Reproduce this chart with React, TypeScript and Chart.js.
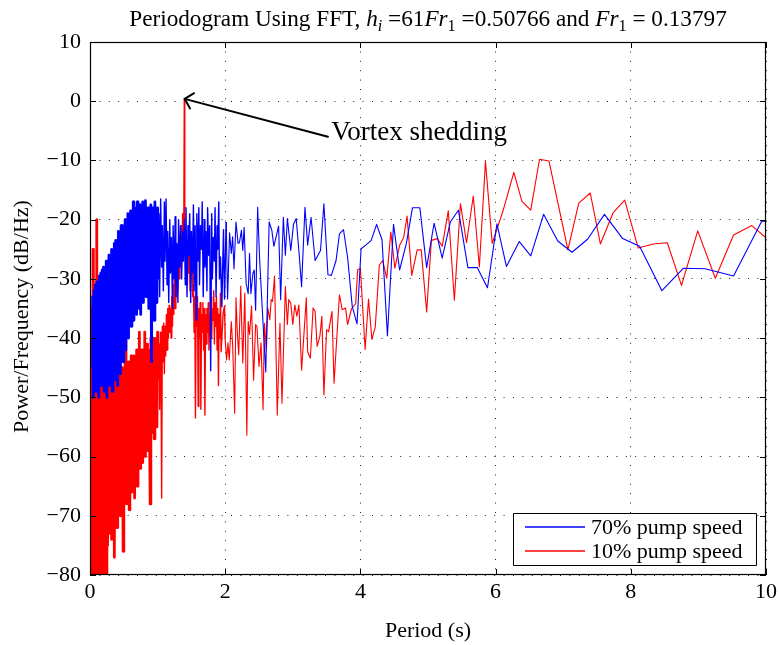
import React, { useEffect, useRef } from "react";
import { Chart, registerables } from "chart.js";

Chart.register(...registerables);

const FONT = '"Liberation Serif", "Times New Roman", serif';

// ---- axes ----
const xTickValues = [0, 2, 4, 6, 8, 10];
const yTickValues = [-80, -70, -60, -50, -40, -30, -20, -10, 0, 10];

// ---- legend / labels ----
const seriesNames = ["70% pump speed", "10% pump speed"];
const xAxisTitle = "Period (s)";
const yAxisTitle = "Power/Frequency (dB/Hz)";
const annotationText = "Vortex shedding";
const arrowTip: [number, number] = [1.4, 0.4];
const arrowTail: [number, number] = [3.52, -6.0];
const annotationAt: [number, number] = [3.57, -5.3];
const titleParts = [
  { t: "Periodogram Using FFT, ", k: "r" },
  { t: "h", k: "i" },
  { t: "i", k: "isub" },
  { t: " =61", k: "r" },
  { t: "Fr", k: "i" },
  { t: "1", k: "sub" },
  { t: " =0.50766 and ", k: "r" },
  { t: "Fr", k: "i" },
  { t: "1", k: "sub" },
  { t: " = 0.13797", k: "r" },
];

// ---- 70% pump speed (blue): [period s, dB/Hz] ----
const blueLow: [number, number][] = [
  [0.03,-45],[0.04,-33],[0.05,-50],[0.06,-32],[0.07,-47],[0.08,-31],[0.09,-49],[0.10,-30.5],[0.11,-44],[0.12,-31],
  [0.13,-50],[0.14,-29.5],[0.15,-46],[0.16,-29],[0.17,-48],[0.18,-28.5],[0.19,-43],[0.20,-28],[0.21,-49],[0.22,-28],
  [0.23,-45],[0.24,-27],[0.25,-50],[0.26,-27.5],[0.27,-46],[0.28,-26],[0.29,-48],[0.30,-26.5],[0.31,-44],[0.32,-25],
  [0.33,-49],[0.34,-25.5],[0.35,-45],[0.36,-24],[0.37,-47],[0.38,-23.5],[0.39,-43],[0.40,-23.5],[0.41,-48],[0.42,-22],
  [0.43,-40],[0.44,-22.5],[0.45,-46],[0.46,-21],[0.47,-39],[0.48,-21],[0.49,-44],[0.50,-21.5],[0.51,-37],[0.52,-20],
  [0.53,-42],[0.54,-20.5],[0.55,-36],[0.56,-19],[0.57,-40],[0.58,-19.5],[0.59,-35],[0.60,-18.5],[0.61,-38],[0.62,-19],
  [0.63,-34],[0.64,-17],[0.65,-37],[0.66,-18],[0.67,-33],[0.68,-19],[0.69,-36],[0.70,-17],[0.71,-32],[0.72,-18],
  [0.73,-35],[0.74,-17.5],[0.75,-36],[0.76,-19],[0.77,-31],[0.78,-17],[0.79,-34],[0.80,-18],[0.81,-30],[0.82,-16.8],
  [0.83,-33],[0.84,-20],[0.85,-29],[0.86,-18],[0.87,-35],[0.88,-19],[0.89,-31],[0.90,-17.5],[0.91,-44],[0.92,-18],
  [0.93,-32],[0.94,-19],[0.95,-37],[0.96,-17],[0.97,-30],[0.98,-20],[0.99,-34],[1.00,-18],
];
const blueMid: [number, number][] = [
  [1.01,-30],[1.02,-19],[1.03,-33],[1.045,-16.5],[1.06,-28],[1.07,-21],[1.085,-32],[1.10,-17],[1.11,-27],[1.125,-16.5],
  [1.14,-31],[1.15,-22],[1.165,-34],[1.18,-20],[1.19,-29],[1.205,-23],[1.22,-35],[1.23,-21],[1.245,-30],[1.26,-19.5],
  [1.27,-33],[1.285,-24],[1.30,-34],[1.31,-20],[1.325,-28],[1.34,-21],[1.355,-30],[1.37,-22],[1.38,-27],[1.395,-20],
  [1.41,-31],[1.42,-18],[1.435,-33],[1.45,-21],[1.46,-26],[1.475,-19],[1.49,-34],[1.50,-22],[1.515,-29],[1.53,-17.5],
  [1.54,-32],[1.555,-21],[1.57,-37],[1.58,-19],[1.595,-27],[1.61,-18],[1.62,-31],[1.635,-21],[1.65,-25],[1.66,-17],
  [1.675,-33],[1.69,-20],[1.70,-28],[1.715,-22],[1.73,-32],[1.74,-18],[1.755,-26],[1.77,-21],[1.785,-45.5],[1.80,-19],
  [1.81,-30],[1.825,-23],[1.84,-27],[1.85,-18],[1.865,-33],[1.88,-21],[1.89,-25],[1.905,-17],[1.915,-30],[1.93,-26.3],
  [1.95,-34.7],[1.975,-21.7],[1.99,-33.4],[2.015,-20.4],[2.035,-33.4],
];
const blueHigh: [number, number][] = [
  [2.065,-22.2],[2.09,-25.7],[2.11,-22.9],[2.13,-28.3],[2.16,-20.4],[2.19,-24.0],[2.21,-23.9],[2.24,-21.8],[2.26,-25.2],[2.28,-21.3],
  [2.31,-30.8],[2.34,-32.5],[2.36,-25.7],[2.38,-32.5],[2.41,-29.1],[2.43,-28.5],[2.45,-35.3],[2.48,-17.9],[2.51,-26.9],[2.56,-37.5],
  [2.60,-45.7],[2.65,-20.4],[2.69,-21.8],[2.72,-24.5],[2.79,-21.1],[2.82,-33.5],[2.86,-19.6],[2.89,-26.0],[2.92,-19.8],[2.97,-25.2],
  [3.01,-20.8],[3.05,-19.8],[3.09,-25.2],[3.13,-31.3],[3.18,-17.9],[3.22,-24.3],[3.27,-19.6],[3.33,-26.9],[3.41,-25.2],[3.46,-17.3],
  [3.52,-29.3],[3.57,-29.4],[3.64,-26.9],[3.69,-22.4],[3.75,-21.7],[3.81,-26.3],[3.88,-34.7],[3.95,-37.6],[4.01,-24.9],[4.08,-24.3],
  [4.16,-23.5],[4.24,-20.8],[4.32,-23.4],[4.40,-39.6],[4.49,-20.8],[4.58,-28.5],[4.68,-24.0],[4.77,-18.0],[4.88,-18.0],[4.98,-28.1],
  [5.09,-20.6],[5.21,-26.5],[5.33,-20.4],[5.45,-18.4],[5.59,-28.1],[5.73,-28.1],[5.88,-31.5],[6.02,-20.7],[6.16,-27.9],[6.35,-23.7],
  [6.52,-26.1],[6.71,-19.1],[6.92,-23.6],[7.13,-25.5],[7.36,-23.3],[7.61,-19.1],[7.88,-23.2],[8.13,-24.5],[8.46,-32.0],[8.78,-28.2],
  [9.10,-28.3],[9.52,-29.5],[9.94,-20.2],[10.4,-21.0],
];

// ---- 10% pump speed (red): [period s, dB/Hz] ----
const redLow: [number, number][] = [
  [0.015,-85],[0.02,-35],[0.025,-84],[0.03,-50],[0.04,-84],[0.045,-25],[0.05,-82],[0.06,-48],[0.07,-85],[0.08,-47],
  [0.09,-78],[0.10,-20],[0.105,-83],[0.11,-49],[0.12,-84],[0.13,-47],[0.14,-76],[0.15,-46],[0.16,-85],[0.17,-48],
  [0.18,-79],[0.19,-41],[0.20,-83],[0.21,-47],[0.22,-77],[0.23,-46],[0.24,-84],[0.25,-48],[0.26,-75],[0.27,-38],
  [0.28,-73],[0.29,-47],[0.30,-70],[0.31,-46],[0.32,-74],[0.33,-48],[0.34,-68],[0.35,-46],[0.36,-77],[0.37,-47],
  [0.38,-69],[0.39,-46],[0.40,-72],[0.41,-47],[0.42,-66],[0.43,-45],[0.44,-35.5],[0.45,-70],[0.46,-46],[0.47,-64],
  [0.48,-45],[0.49,-76],[0.50,-46],[0.51,-65],[0.52,-44],[0.53,-35],[0.54,-68],[0.55,-45],[0.56,-62],[0.57,-44],
  [0.58,-69],[0.59,-45],[0.60,-61],[0.61,-43],[0.62,-66],[0.63,-44],[0.64,-60],[0.65,-43],[0.66,-67],[0.67,-44],
  [0.68,-59],[0.69,-42],[0.70,-65],[0.71,-43],[0.72,-58],[0.73,-39],[0.74,-62],[0.75,-43],[0.76,-57],[0.77,-42],
  [0.78,-61],[0.79,-43],[0.80,-56],[0.81,-39],[0.82,-60],[0.83,-42],[0.84,-55],[0.85,-41],[0.86,-59],[0.87,-42],
  [0.88,-54],[0.89,-68],[0.90,-40],[0.91,-56],[0.92,-41],[0.93,-52],[0.94,-40],[0.95,-57],[0.96,-41],[0.97,-49],
  [0.98,-40],[0.99,-55],[1.00,-39],
];
const redMid: [number, number][] = [
  [1.01,-47],[1.02,-41],[1.03,-52],[1.04,-39],[1.05,-45],[1.06,-67],[1.07,-38],[1.08,-44],[1.09,-37.5],[1.10,-46],
  [1.11,-38],[1.12,-43],[1.13,-36],[1.14,-42],[1.15,-35],[1.16,-40],[1.17,-34.5],[1.18,-39],[1.19,-35],[1.20,-40],
  [1.21,-33],[1.22,-38],[1.23,-31],[1.24,-36],[1.25,-29],[1.26,-35],[1.27,-28],[1.28,-33],[1.29,-26],[1.30,-32],
  [1.31,-25],[1.32,-30],[1.33,-23],[1.34,-28],[1.35,-21],[1.36,-27],[1.37,-19],[1.38,-24],[1.388,-21],[1.395,0.3],
  [1.402,-19],[1.41,-22],[1.42,-27],[1.43,-24],[1.44,-31],[1.45,-25],[1.46,-29],[1.47,-23],[1.48,-32],[1.49,-26],
  [1.50,-30],[1.51,-28],[1.52,-33],[1.53,-31],[1.54,-39],[1.55,-33],[1.56,-53.5],[1.57,-34],[1.58,-38],[1.59,-33],
  [1.60,-51.5],[1.61,-35],[1.62,-40],[1.63,-34],[1.64,-52],[1.65,-36],[1.66,-39],[1.67,-34],[1.68,-42],[1.69,-35],
  [1.70,-53],[1.71,-36],[1.72,-41],[1.73,-35],[1.74,-39],[1.75,-34],[1.76,-42],[1.77,-36],[1.78,-38],[1.79,-33],
  [1.80,-40],[1.81,-35],[1.82,-37],[1.83,-32],[1.84,-41],[1.85,-34],[1.86,-38],[1.87,-33],[1.88,-42],[1.89,-35],
  [1.90,-48],[1.91,-36],[1.92,-40],
];
const redHigh: [number, number][] = [
  [1.93,-32.4],[1.94,-42.3],[1.97,-35.8],[1.99,-34.6],[2.00,-40.3],[2.02,-43.7],[2.04,-40.8],[2.06,-43.7],[2.09,-37.2],[2.11,-41.1],
  [2.14,-52.7],[2.16,-33.2],[2.18,-39.2],[2.20,-42.8],[2.23,-31.2],[2.26,-44.2],[2.29,-32.4],[2.32,-56.4],[2.34,-37.2],[2.36,-39.4],
  [2.39,-34.6],[2.42,-47.1],[2.45,-37.7],[2.47,-38.0],[2.50,-44.8],[2.53,-40.8],[2.56,-52.1],[2.58,-37.5],[2.61,-42.0],[2.63,-34.9],
  [2.66,-36.9],[2.68,-33.5],[2.70,-33.8],[2.73,-29.5],[2.77,-53.0],[2.81,-37.5],[2.84,-51.0],[2.89,-31.3],[2.92,-37.7],[2.94,-33.5],
  [2.97,-34.1],[3.00,-37.7],[3.03,-34.4],[3.06,-36.3],[3.09,-34.4],[3.13,-45.4],[3.20,-33.2],[3.22,-42.3],[3.26,-43.4],[3.30,-34.9],
  [3.33,-35.5],[3.36,-41.4],[3.40,-39.7],[3.43,-36.3],[3.46,-49.6],[3.50,-38.6],[3.53,-38.9],[3.58,-35.5],[3.61,-47.6],[3.69,-32.7],
  [3.73,-35.2],[3.78,-34.9],[3.81,-37.7],[3.87,-35.0],[3.93,-34.2],[3.96,-28.4],[4.00,-28.3],[4.07,-41.9],[4.12,-33.4],[4.17,-40.2],
  [4.22,-38.1],[4.28,-27.7],[4.33,-26.9],[4.39,-29.9],[4.45,-22.1],[4.51,-28.2],[4.58,-24.3],[4.64,-23.0],[4.69,-19.4],[4.76,-29.4],
  [4.84,-25.1],[4.90,-25.1],[4.98,-35.6],[5.05,-23.5],[5.14,-23.2],[5.21,-24.5],[5.30,-18.5],[5.39,-33.6],[5.48,-17.3],[5.57,-23.9],
  [5.67,-16.0],[5.76,-28.0],[5.85,-10.2],[5.95,-24.0],[6.11,-18.5],[6.27,-12.0],[6.39,-16.9],[6.52,-18.4],[6.65,-9.8],[6.79,-10.1],
  [7.07,-25.1],[7.23,-17.2],[7.40,-15.5],[7.55,-24.1],[7.74,-18.8],[7.91,-16.7],[8.11,-24.8],[8.33,-24.1],[8.54,-23.9],[8.75,-31.1],
  [8.99,-21.9],[9.25,-29.9],[9.52,-22.6],[9.79,-21.0],[10.2,-25.0],
];

const BLUE = "#0000ff";
const RED = "#ff0000";

const toPts = (arr: [number, number][]) => arr.map(([x, y]) => ({ x, y }));

// thicker strokes where the periodogram is densely sampled so it reads as a filled band
const segWidth = (ctx: any) => {
  const x = ctx.p0.parsed.x;
  if (x < 1.005) return 2.8;
  if (x < 2.0) return 1.4;
  return 1.1;
};

function drawTitle(chart: any) {
  const { ctx, chartArea } = chart;
  const fontFor = (k: string, size: number) => {
    if (k === "i") return `italic ${size}px ${FONT}`;
    if (k === "isub") return `italic ${size * 0.7}px ${FONT}`;
    if (k === "sub") return `${size * 0.7}px ${FONT}`;
    return `${size}px ${FONT}`;
  };
  const measure = (size: number) => {
    let w = 0;
    for (const p of titleParts) {
      ctx.font = fontFor(p.k, size);
      w += ctx.measureText(p.t).width;
    }
    return w;
  };
  const base = 20;
  const size = (base * 598) / measure(base);
  const total = measure(size);
  const cx = (chartArea.left + chartArea.right) / 2;
  let x = cx - total / 2;
  const baseline = 26;
  ctx.save();
  ctx.fillStyle = "#000";
  ctx.textAlign = "left";
  ctx.textBaseline = "alphabetic";
  for (const p of titleParts) {
    ctx.font = fontFor(p.k, size);
    const y = p.k === "sub" || p.k === "isub" ? baseline + size * 0.22 : baseline;
    ctx.fillText(p.t, x, y);
    x += ctx.measureText(p.t).width;
  }
  // y-axis title (rotated), centred a little below the plot middle as in the original
  ctx.font = `22px ${FONT}`;
  ctx.textAlign = "center";
  ctx.textBaseline = "middle";
  ctx.translate(22, (chartArea.top + chartArea.bottom) / 2 + 8);
  ctx.rotate(-Math.PI / 2);
  ctx.fillText(yAxisTitle, 0, 0);
  ctx.restore();
}

const overlayPlugin = {
  id: "overlay",
  afterDatasetsDraw(chart: any) {
    const { ctx, chartArea, scales } = chart;
    const { left, right, top, bottom } = chartArea;
    const xs = scales.x;
    const ys = scales.y;
    ctx.save();
    ctx.setLineDash([]);
    ctx.strokeStyle = "#000";
    ctx.lineWidth = 1;
    // inward tick marks on all sides
    const tl = 6;
    ctx.beginPath();
    for (const v of xTickValues) {
      const px = Math.round(xs.getPixelForValue(v)) + 0.5;
      ctx.moveTo(px, bottom);
      ctx.lineTo(px, bottom - tl);
      ctx.moveTo(px, top);
      ctx.lineTo(px, top + tl);
    }
    for (const v of yTickValues) {
      const py = Math.round(ys.getPixelForValue(v)) + 0.5;
      ctx.moveTo(left, py);
      ctx.lineTo(left + tl, py);
      ctx.moveTo(right, py);
      ctx.lineTo(right - tl, py);
    }
    ctx.stroke();
    // box
    ctx.lineWidth = 1.2;
    ctx.strokeRect(left + 0.5, top + 0.5, right - left - 1, bottom - top - 1);

    // annotation arrow
    const tipX = xs.getPixelForValue(arrowTip[0]);
    const tipY = ys.getPixelForValue(arrowTip[1]);
    const tailX = xs.getPixelForValue(arrowTail[0]);
    const tailY = ys.getPixelForValue(arrowTail[1]);
    ctx.lineWidth = 2;
    ctx.lineCap = "round";
    ctx.lineJoin = "round";
    ctx.beginPath();
    ctx.moveTo(tailX, tailY);
    ctx.lineTo(tipX, tipY);
    ctx.stroke();
    const ang = Math.atan2(tailY - tipY, tailX - tipX);
    const hl = 11;
    const ha = 0.8;
    ctx.beginPath();
    ctx.moveTo(tipX + hl * Math.cos(ang - ha), tipY + hl * Math.sin(ang - ha));
    ctx.lineTo(tipX, tipY);
    ctx.lineTo(tipX + hl * Math.cos(ang + ha), tipY + hl * Math.sin(ang + ha));
    ctx.stroke();
    ctx.fillStyle = "#000";
    ctx.font = `27px ${FONT}`;
    ctx.textAlign = "left";
    ctx.textBaseline = "middle";
    ctx.fillText(annotationText, xs.getPixelForValue(annotationAt[0]), ys.getPixelForValue(annotationAt[1]));

    // legend
    const bx0 = right - 253;
    const bx1 = right - 10;
    const by0 = bottom - 62;
    const by1 = bottom - 10;
    ctx.fillStyle = "#fff";
    ctx.fillRect(bx0, by0, bx1 - bx0, by1 - by0);
    ctx.lineWidth = 1;
    ctx.lineCap = "butt";
    ctx.strokeStyle = "#000";
    ctx.strokeRect(Math.round(bx0) + 0.5, Math.round(by0) + 0.5, bx1 - bx0, by1 - by0);
    ctx.font = `22px ${FONT}`;
    ctx.textBaseline = "middle";
    chart.data.datasets.forEach((ds: any, i: number) => {
      const ry = Math.round(by0 + 14 + i * 24);
      ctx.strokeStyle = ds.borderColor;
      ctx.lineWidth = 1.3;
      ctx.beginPath();
      ctx.moveTo(bx0 + 12, ry);
      ctx.lineTo(bx0 + 72, ry);
      ctx.stroke();
      ctx.fillStyle = "#000";
      ctx.fillText(ds.label, bx0 + 78, ry + 1);
    });
    ctx.restore();
  },
  afterDraw(chart: any) {
    drawTitle(chart);
  },
};

export default function App() {
  const ref = useRef<HTMLCanvasElement | null>(null);
  useEffect(() => {
    if (!ref.current) return;
    const tickFont = { family: FONT, size: 22 };
    const chart = new Chart(ref.current, {
      type: "line",
      data: {
        datasets: [
          {
            label: seriesNames[0],
            data: toPts([...blueLow, ...blueMid, ...blueHigh]),
            borderColor: BLUE,
            backgroundColor: BLUE,
            borderWidth: 1.1,
            borderJoinStyle: "round",
            segment: { borderWidth: segWidth },
            pointRadius: 0,
            tension: 0,
            fill: false,
          },
          {
            label: seriesNames[1],
            data: toPts([...redLow, ...redMid, ...redHigh]),
            borderColor: RED,
            backgroundColor: RED,
            borderWidth: 1.1,
            borderJoinStyle: "round",
            segment: { borderWidth: segWidth },
            pointRadius: 0,
            tension: 0,
            fill: false,
          },
        ],
      },
      options: {
        animation: false,
        responsive: false,
        events: [],
        layout: { padding: { top: 42, right: 12, bottom: 0, left: 0 } },
        plugins: {
          legend: { display: false },
          title: { display: false },
          tooltip: { enabled: false },
        },
        scales: {
          x: {
            type: "linear",
            min: 0,
            max: 10,
            afterBuildTicks: (s: any) => {
              s.ticks = xTickValues.map((v) => ({ value: v }));
            },
            ticks: { color: "#000", font: tickFont, padding: 4, maxRotation: 0 },
            grid: { color: "#222", lineWidth: 1, drawTicks: false },
            border: { display: false, dash: [1, 8.4] },
            title: {
              display: true,
              text: xAxisTitle,
              color: "#000",
              font: tickFont,
              padding: { top: 0, bottom: 1 },
            },
            afterFit: (s: any) => {
              s.height = 70;
              s.paddingLeft = 0;
              s.paddingRight = 0;
            },
          },
          y: {
            type: "linear",
            min: -80,
            max: 10,
            afterBuildTicks: (s: any) => {
              s.ticks = yTickValues.map((v) => ({ value: v }));
            },
            ticks: {
              color: "#000",
              font: tickFont,
              padding: 9,
              callback: (v: any) => String(v).replace("-", "\u2212"),
            },
            grid: { color: "#222", lineWidth: 1, drawTicks: false },
            border: { display: false, dash: [1, 8.4] },
            title: { display: false },
            afterFit: (s: any) => {
              s.width = 90;
              s.paddingTop = 0;
              s.paddingBottom = 0;
            },
          },
        },
      },
      plugins: [overlayPlugin],
    } as any);
    return () => chart.destroy();
  }, []);
  return (
    <div style={{ position: "absolute", left: 0, top: 0, width: 778, height: 645, background: "#fff" }}>
      <canvas ref={ref} width={778} height={645} style={{ display: "block" }} />
    </div>
  );
}
